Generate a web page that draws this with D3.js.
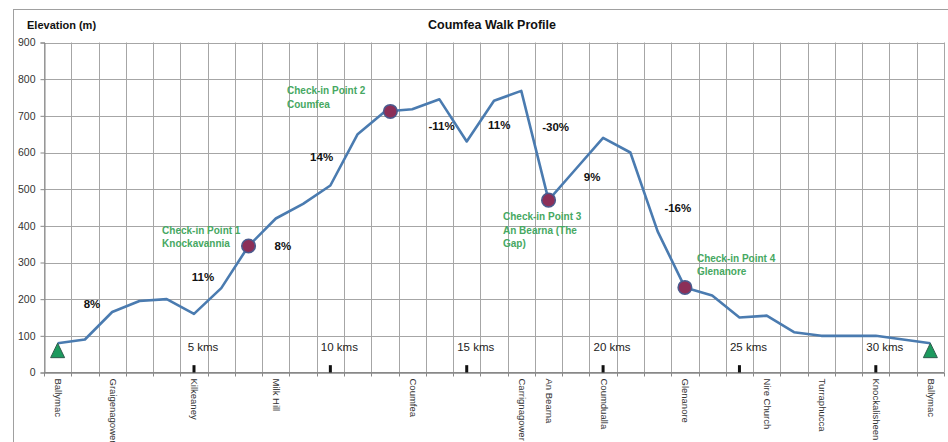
<!DOCTYPE html>
<html><head><meta charset="utf-8">
<script src="https://cdn.jsdelivr.net/npm/d3@7"></script>
<style>
html,body{margin:0;padding:0;background:#fff;}
svg{display:block;font-family:"Liberation Sans",Arial,sans-serif;}
</style></head>
<body>
<script>
// ---- data ----
const categories = ["Ballymac","","Graigenagower","","","Kilkeaney","","","Milk Hill","","","","","Coumfea","","","","Carrignagower","An Bearna","","Coumdualla","","","Glenanore","","","Nire Church","","Turraphucca","","Knockalisheen","","Ballymac"];
const elevation = [80,90,165,195,200,160,230,345,420,460,510,650,712,718,745,630,741,768,470,555,640,600,385,232,210,150,155,110,100,100,100,90,80];
const yTicks = [0,100,200,300,400,500,600,700,800,900];
const kmMarks = [5,10,15,20,25,30];
const kmMarkHeight = 20;
const endPoints = [0,32];
const checkinIdx = [7,12.2,18,23];
const checkinElev = [345,712,470,232];
const checkinText = [["Check-in Point 1","Knockavannia"],["Check-in Point 2","Coumfea"],["Check-in Point 3","An Bearna (The","Gap)"],["Check-in Point 4","Glenanore"]];
const checkinLabelPos = [[3.83,388],[8.41,768],[16.33,425],[23.44,312]];
const gradeText = ["8%","11%","8%","14%","-11%","11%","-30%","9%","-16%"];
const gradePos = [[1.26,187],[5.33,260],[8.26,345],[9.68,588],[14.08,673],[16.19,676],[18.26,670],[19.6,533],[22.74,449]];

// ---- layout ----
const W=948,H=442;
const L=44,R=944,T=42.5,B=372.5;
const n=categories.length;
const x=d3.scaleLinear().domain([-0.5,n-0.5]).range([L,R]);
const y=d3.scaleLinear().domain([0,900]).range([B,T]);

const svg=d3.select("body").append("svg").attr("width",W).attr("height",H);
svg.append("rect").attr("x",13.5).attr("y",9.5).attr("width",W).attr("height",H).attr("fill","#fff").attr("stroke","#a0a0a0");

// grid
const grid=svg.append("g");
grid.selectAll("line.h").data(yTicks).join("line").attr("class","h")
  .attr("x1",L).attr("x2",R).attr("y1",d=>Math.round(y(d))+0.5).attr("y2",d=>Math.round(y(d))+0.5)
  .attr("stroke","#a6a6a6").attr("stroke-width",1);
grid.selectAll("line.v").data(d3.range(n+1)).join("line").attr("class","v")
  .attr("y1",T).attr("y2",B).attr("x1",d=>Math.round(x(d-0.5))+0.5).attr("x2",d=>Math.round(x(d-0.5))+0.5)
  .attr("stroke","#a6a6a6").attr("stroke-width",1);

// y axis
const yAxis=svg.append("g").attr("transform",`translate(${L+0.5},0)`)
  .call(d3.axisLeft(y).tickValues(yTicks).tickSize(4).tickPadding(5));
yAxis.select(".domain").attr("stroke","#888");
yAxis.selectAll(".tick line").attr("stroke","#888");
yAxis.selectAll("text").attr("font-size","10.5px").attr("fill","#333").attr("font-family","Liberation Sans, Arial, sans-serif");

// x axis
const xAxis=svg.append("g").attr("transform",`translate(0,${B})`);
xAxis.append("line").attr("x1",L).attr("x2",R).attr("stroke","#888");
xAxis.selectAll("line.t").data(d3.range(n+1)).join("line").attr("class","t")
  .attr("x1",d=>Math.round(x(d-0.5))+0.5).attr("x2",d=>Math.round(x(d-0.5))+0.5).attr("y1",0).attr("y2",4).attr("stroke","#888");
xAxis.selectAll("text").data(categories.map((c,i)=>({c,i})).filter(d=>d.c)).join("text")
  .attr("transform",d=>`translate(${x(d.i)},6) rotate(90)`)
  .attr("dominant-baseline","middle").attr("font-size","9.5px").attr("fill","#333").text(d=>d.c);

// km markers
svg.selectAll("rect.km").data(kmMarks).join("rect").attr("class","km")
  .attr("x",d=>x(d)-1.5).attr("width",3).attr("y",d=>y(kmMarkHeight)).attr("height",d=>y(0)-y(kmMarkHeight)).attr("fill","#111");
svg.selectAll("text.km").data(kmMarks).join("text").attr("class","km")
  .attr("x",d=>x(d)+9).attr("y",y(0)-22).attr("text-anchor","middle").attr("font-size","11.5px").attr("fill","#222")
  .text(d=>`${d} kms`);

// line
const line=d3.line().x((d,i)=>x(i)).y(d=>y(d));
svg.append("path").datum(elevation).attr("d",line).attr("fill","none")
  .attr("stroke","#4a7bb0").attr("stroke-width",2.6).attr("stroke-linejoin","round");

// triangles
svg.selectAll("path.tri").data(endPoints).join("path").attr("class","tri")
  .attr("d",d=>{const cx=x(d),ty=y(elevation[d]);return `M${cx},${ty} L${cx+7},${ty+14.5} L${cx-7},${ty+14.5} Z`;})
  .attr("fill","#1c9a5e").attr("stroke","#2e5b4c").attr("stroke-width",1);

// checkin circles
svg.selectAll("circle.cp").data(checkinIdx).join("circle").attr("class","cp")
  .attr("cx",d=>x(d)).attr("cy",(d,i)=>y(checkinElev[i])).attr("r",6.8)
  .attr("fill","#8c2f58").attr("stroke","#4b5b8e").attr("stroke-width",1.5);

// checkin labels
checkinText.forEach((lines,i)=>{
  const t=svg.append("text").attr("font-size","10px").attr("font-weight","bold").attr("fill","#46a862");
  lines.forEach((s,j)=>{
    t.append("tspan").attr("x",x(checkinLabelPos[i][0])).attr("y",y(checkinLabelPos[i][1])+3.5+j*13.6).text(s);
  });
});

// grade labels
svg.selectAll("text.gr").data(gradeText).join("text").attr("class","gr")
  .attr("x",(d,i)=>x(gradePos[i][0])).attr("y",(d,i)=>y(gradePos[i][1])+4)
  .attr("text-anchor","middle").attr("font-size","11.5px").attr("font-weight","bold").attr("fill","#111").text(d=>d);

// titles
svg.append("text").attr("x",492).attr("y",28.5).attr("text-anchor","middle").attr("font-size","12.5px").attr("font-weight","bold").attr("fill","#111").text("Coumfea Walk Profile");
svg.append("text").attr("x",27).attr("y",29).attr("font-size","11px").attr("font-weight","bold").attr("fill","#111").text("Elevation (m)");
</script>
</body></html>
